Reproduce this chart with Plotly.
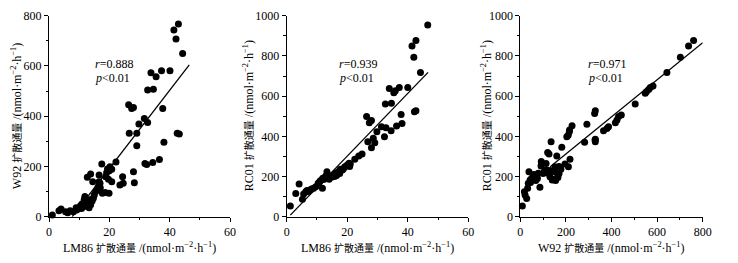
import plotly.graph_objects as go

W, H = 738, 263

# Panel 1: LM86 vs W92
lm86_p1 = [42.9,41.4,42.1,44.3,40.1,37.3,33.8,35.5,32.7,34.6,26.4,27.4,28.0,37.7,31.6,32.7,29.8,26.6,29.1,42.5,
           43.2,29.1,38.1,36.6,34.4,32.4,31.8,22.2,17.5,20.2,19.4,20.8,20.0,28.0,24.4,24.6,23.5,28.3,12.7,13.8,
           16.6,14.5,16.6,16.9,16.3,15.8,19.1,18.8,19.7,20.8,18.6,19.9,17.7,15.0,14.7,14.1,12.8,11.7,11.9,13.0,
           11.9,11.4,10.8,9.7,9.2,8.1,7.0,6.2,5.5,4.0,3.3,1.1,12.8,13.3,12.3,10.2,14.3,15.5,17.0,
           10.5,11.0,12.0,9.0,13.8]
w92_p1 = [767,743,707,650,581,581,573,557,504,507,446,431,435,431,391,375,369,332,332,332,
          329,282,296,228,216,208,212,218,210,199,190,189,183,179,159,133,126,135,157,170,
          166,139,139,133,119,106,175,159,149,139,96,93,93,86,73,69,66,69,80,53,
          47,40,33,33,27,20,24,16,20,31,24,7,43,36,50,38,62,100,115,
          45,52,58,36,48]
fit1_x = [7.7, 46.5]
fit1_y = [0, 604]

# Panel 2: LM86 vs RC01
lm86_p2 = [46.6,42.7,41.4,42.0,44.2,40.0,37.2,33.9,35.9,35.4,32.6,34.6,26.4,27.3,28.0,37.8,38.1,36.3,31.3,32.8,
           34.5,29.8,32.3,28.6,29.1,28.0,26.8,24.9,23.8,22.5,42.2,42.7,1.2,3.0,4.1,5.2,5.6,6.3,7.0,7.8,
           8.9,9.6,10.4,11.1,11.9,11.8,12.9,13.3,14.0,14.8,15.3,16.2,17.0,17.7,18.4,19.2,20.0,20.6,12.2,13.8,
           16.5,17.5,18.8,20.8,21.0,15.8,10.8,6.7,8.2]
rc01_p2 = [954,876,849,793,718,643,643,638,627,617,561,564,498,468,478,509,464,451,448,443,
           428,423,398,390,368,343,373,312,302,286,522,527,53,116,163,87,113,124,124,133,
           141,149,166,179,191,141,202,224,186,196,207,216,224,236,232,249,257,266,185,195,
           205,215,240,250,262,200,172,130,138]
fit2_x = [1.2, 46.7]
fit2_y = [8, 718]

# Panel 3: W92 vs RC01
w92_p3 = [760,738,702,643,582,570,563,553,548,504,443,431,424,417,380,387,365,329,326,329,
          329,292,282,227,216,210,9,18,21,28,32,35,43,38,50,57,64,72,79,86,
          94,91,105,116,123,130,140,149,152,160,178,196,211,218,135,126,160,182,204,215,
          170,328,120,155,165,113,92,45,55,60,68,75,100,110,130,145,170]
rc01_p3 = [876,849,793,718,650,643,633,622,614,561,506,498,481,468,439,448,428,527,514,385,
           373,460,370,452,431,405,53,124,108,91,141,166,183,224,191,199,202,196,216,146,
           266,252,224,232,216,199,183,186,249,219,236,262,249,286,373,312,302,345,398,423,
           250,382,320,180,195,265,275,170,185,210,180,190,215,230,230,225,215]
fit3_x = [131, 800]
fit3_y = [249, 866]

CJK = '<span style="font-size:10px">扩散通量</span>'
UNIT = " /(nmol·m<sup>−2</sup>·h<sup>−1</sup>)"
x_titles = ["LM86 " + CJK + UNIT, "LM86 " + CJK + UNIT, "W92 " + CJK + UNIT]
y_titles = ["W92 " + CJK + UNIT, "RC01 " + CJK + UNIT, "RC01 " + CJK + UNIT]
r_texts = ["0.888", "0.939", "0.971"]

FONT = "Liberation Serif, Times New Roman, Noto Sans CJK SC, serif"

panels = [
    dict(x=lm86_p1, y=w92_p1, fx=fit1_x, fy=fit1_y, xr=[0, 60], yr=[0, 800], xd=20, xm=10, yd=200, ym=100,
         px=(49, 230), ytx=16, txt=93),
    dict(x=lm86_p2, y=rc01_p2, fx=fit2_x, fy=fit2_y, xr=[0, 60], yr=[0, 1000], xd=20, xm=10, yd=200, ym=100,
         px=(286.7, 468.3), ytx=248, txt=337),
    dict(x=w92_p3, y=rc01_p3, fx=fit3_x, fy=fit3_y, xr=[0, 800], yr=[0, 1000], xd=200, xm=100, yd=200, ym=100,
         px=(520.3, 702.7), ytx=486, txt=586),
]

top_px, bot_px = 15.7, 216.7
yd0 = (H - bot_px) / H
yd1 = (H - top_px) / H

fig = go.Figure()
annotations = []
for i, p in enumerate(panels):
    n = "" if i == 0 else str(i + 1)
    fig.add_trace(go.Scatter(x=p["x"], y=p["y"], mode="markers",
                             marker=dict(color="black", size=7),
                             cliponaxis=False, showlegend=False,
                             xaxis="x" + n, yaxis="y" + n))
    fig.add_trace(go.Scatter(x=p["fx"], y=p["fy"], mode="lines",
                             line=dict(color="black", width=1.3),
                             showlegend=False, xaxis="x" + n, yaxis="y" + n))
    common = dict(showgrid=False, zeroline=False, showline=True, linecolor="black", linewidth=1,
                  ticks="outside", ticklen=4, tickwidth=1, tickcolor="black", automargin=False,
                  tickfont=dict(family=FONT, size=12, color="black"))
    fig.update_layout(**{
        "xaxis" + n: dict(domain=[p["px"][0] / W, p["px"][1] / W], range=p["xr"], dtick=p["xd"], tick0=0,
                          anchor="y" + n,
                          minor=dict(ticks="outside", ticklen=2.5, dtick=p["xm"], tickcolor="black"),
                          **common),
        "yaxis" + n: dict(domain=[yd0, yd1], range=p["yr"], dtick=p["yd"], tick0=0, anchor="x" + n,
                          minor=dict(ticks="outside", ticklen=2.5, dtick=p["ym"], tickcolor="black"),
                          **common),
    })
    cx = (p["px"][0] + p["px"][1]) / 2 / W
    annotations.append(dict(text=x_titles[i], x=cx, y=(H - 247) / H, xref="paper", yref="paper",
                            xanchor="center", yanchor="middle", showarrow=False,
                            font=dict(family=FONT, size=12, color="black")))
    annotations.append(dict(text=y_titles[i], x=p["ytx"] / W, y=(H - (top_px + bot_px) / 2) / H,
                            xref="paper", yref="paper", textangle=-90,
                            xanchor="center", yanchor="middle", showarrow=False,
                            font=dict(family=FONT, size=12, color="black")))
    annotations.append(dict(text="<i>r</i>=" + r_texts[i], x=p["txt"] / W, y=(H - 64) / H,
                            xref="paper", yref="paper", xanchor="left", yanchor="middle",
                            showarrow=False, font=dict(family=FONT, size=12, color="black")))
    annotations.append(dict(text="<i>p</i>&lt;0.01", x=p["txt"] / W, y=(H - 78) / H,
                            xref="paper", yref="paper", xanchor="left", yanchor="middle",
                            showarrow=False, font=dict(family=FONT, size=12, color="black")))

fig.update_layout(width=W, height=H, margin=dict(l=0, r=0, t=0, b=0, pad=0, autoexpand=False),
                  paper_bgcolor="white", plot_bgcolor="white",
                  annotations=annotations, showlegend=False)

fig.write_html("out.html", config={"displayModeBar": False},
               post_script="document.body.style.margin='0';document.body.style.overflow='hidden';")
